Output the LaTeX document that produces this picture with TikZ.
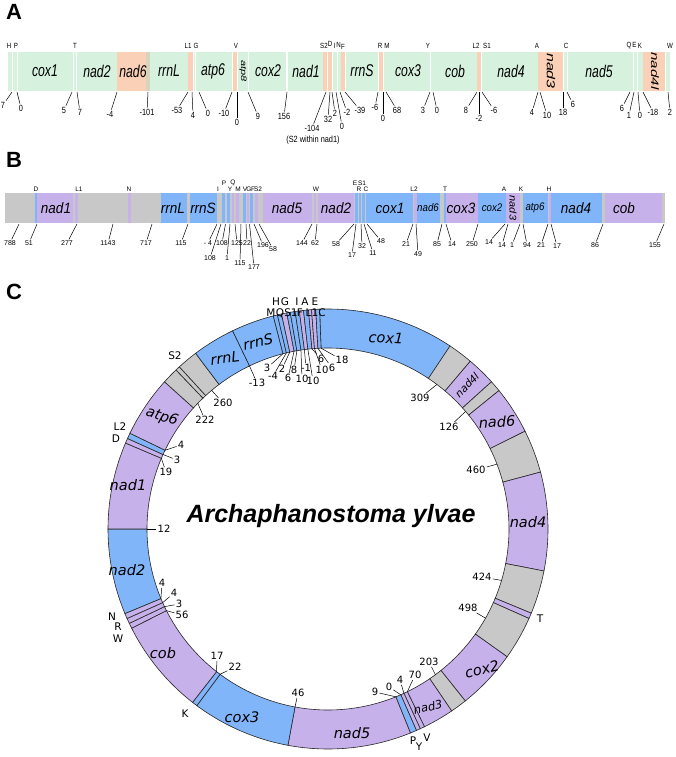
\documentclass[tikz,border=0pt]{standalone}
\usepackage{fontspec}
\usepackage{graphicx}
\setmainfont{Liberation Sans}
\newfontfamily\dejavu{DejaVu Sans}
\definecolor{agreen}{RGB}{214,241,222}
\definecolor{aorange}{RGB}{250,208,182}
\definecolor{amix}{RGB}{215,212,188}
\definecolor{bgrey}{RGB}{200,200,200}
\definecolor{bpurple}{RGB}{199,177,234}
\definecolor{bblue}{RGB}{128,181,250}
\newcommand{\sqA}[1]{\scalebox{0.72}[1]{#1}}
\newcommand{\sqN}[1]{\scalebox{0.82}[1]{#1}}
\newcommand{\sqV}[1]{\scalebox{1}[0.72]{#1}}
\newcommand{\ringseg}[3]{\filldraw[ring, fill=#3] (#1:220) arc[start angle=#1, end angle=#2, radius=220] -- (#2:181) arc[start angle=#2, end angle=#1, radius=181] -- cycle;}
\tikzset{
  panel/.style={font=\fontsize{22}{22}\selectfont\bfseries},
  genA/.style={font=\fontsize{17}{17}\selectfont\itshape, inner sep=0pt},
  trnaA/.style={font=\fontsize{7.5}{7.5}\selectfont, inner sep=0pt},
  numA/.style={font=\fontsize{9}{9}\selectfont, inner sep=1pt},
  genB/.style={font=\fontsize{15}{15}\selectfont\itshape, inner sep=0pt},
  genBs/.style={font=\fontsize{11}{11}\selectfont\itshape, inner sep=0pt},
  trnaB/.style={font=\fontsize{6.5}{6.5}\selectfont, inner sep=0pt},
  numB/.style={font=\fontsize{7}{7}\selectfont, inner sep=1pt},
  ring/.style={draw=black!85, line width=0.6pt},
  genC/.style={font=\dejavu\fontsize{14.5}{14.5}\selectfont\itshape, inner sep=0pt},
  genCs/.style={font=\dejavu\fontsize{11.5}{11.5}\selectfont\itshape, inner sep=0pt},
  trnaC/.style={font=\dejavu\fontsize{10.5}{10.5}\selectfont, inner sep=0pt},
  numC/.style={font=\dejavu\fontsize{10}{10}\selectfont, inner sep=1pt},
  title/.style={font=\fontsize{25}{25}\selectfont\bfseries\itshape},
  tick/.style={line width=0.5pt}
}
\begin{document}
\begin{tikzpicture}[x=1pt,y=1pt]
\useasboundingbox (0,0) rectangle (675,-757);
\node[panel] (lA) at (14,-12) {A};
\node[panel] (lB) at (14,-160) {B};
\node[panel] (lC) at (14,-292) {C};

\foreach \a/\b/\c in {8/12/agreen, 13/17/agreen, 18/72.5/agreen, 73.5/76/agreen, 77/116.5/agreen, 116.5/146/aorange, 146/149.5/amix, 149.5/188/agreen, 188/192.5/aorange, 193.5/195/agreen, 195.5/232/agreen, 232.5/237/aorange, 238/247.5/agreen, 248.5/286/agreen, 287.5/323/agreen, 323/327/aorange, 327.5/332/aorange, 333/337/agreen, 337.5/340.5/agreen, 341/345/aorange, 346/378/agreen, 378.5/383/aorange, 384/385.5/agreen, 386/430/agreen, 431/432.5/agreen, 433/476.5/agreen, 477/481/aorange, 482/483.5/agreen, 484/537.5/agreen, 538/563/aorange, 564/567/agreen, 568/629.5/agreen, 630/633/agreen, 634/637/agreen, 638/642.5/agreen, 643/665/aorange, 666/670/agreen}
  {\fill[\c] (\a,-52) rectangle (\b,-91);}
\foreach \x/\t in {45/cox1, 97/nad2, 133/nad6, 169/rrnL, 213/atp6, 268/cox2, 306/nad1, 362/rrnS, 408/cox3, 455/cob, 511/nad4, 599/nad5}
  {\node[genA] (gA\t) at (\x,-71) {\sqA{\t}};}
\node[genA, font=\fontsize{11}{11}\selectfont\itshape, rotate=-90] (gAatp8) at (243,-71) {\sqV{atp8}};
\node[genA, font=\fontsize{16}{16}\selectfont\itshape, rotate=-90] (gAnad3) at (551,-71) {\sqV{nad3}};
\node[genA, font=\fontsize{15}{15}\selectfont\itshape, rotate=-90] (gAnad4l) at (655,-71) {\sqV{nad4l}};
\foreach \x/\y/\t [count=\i] in {9/46/H, 16/46/P, 75/46/T, 188/46/L1, 196/46/G, 236/46/V, 324/46/S2, 330/44/D, 334.5/45.5/I, 338.5/45/N, 343/46.5/F, 380/46/R, 387/46/M, 428/46/Y, 476/46/L2, 487/46/S1, 537/46/A, 566/46/C, 629/46/Q, 634.5/45/E, 640/46/K, 670/46/W}
  {\node[trnaA] (tA\i) at (\x,-\y) {\sqN{\t}};}
\foreach \bx/\lx/\ly/\t [count=\i] in {12/3/105/7, 17/21/108/0, 72/64/110/5, 77/80/112/7, 117/110/114/-4, 148/147/112/-101, 188/177/110/-53, 192/193/115/4, 199/208/113/0, 232/224/113/-10, 237/237/122/0, 248/258/116/9, 287/284/116/156, 326/312/128/-104, 330/328/119/32, 332/335/113/2, 336/342/126/0, 340/347/112/-2, 345/360/110/-39, 378/375/107/-6, 383/383/118/0, 386/397/110/68, 430/423/110/3, 433/437/110/0, 477/466/110/8, 479/479/118/-2, 482/494/110/-6, 538/532/112/4, 540/547/115/10, 563/563/112/18, 567/573/104/6, 630/622/108/6, 634/629/115/1, 638/640/115/0, 643/653/112/-18, 668/670/112/2}
  {\coordinate (pA\i) at (\bx,-92);
   \node[numA] (nA\i) at (\lx,-\ly) {\sqN{\t}};
   \draw[tick] (pA\i) -- (nA\i);}
\node[numA] (nAs2) at (313,-140) {\sqN{(S2 within nad1)}};

\fill[bgrey] (5,-193) rectangle (665,-223);
\foreach \a/\b/\c in {34.5/37/bblue, 37/73/bpurple, 74.5/77.5/bpurple, 128/131/bpurple, 161/187/bblue, 190/217/bblue, 222/224.5/bblue, 227/229.5/bblue, 232/234/bpurple, 236/239/bpurple, 243/245.5/bblue, 246.5/248.5/bpurple, 250/252.5/bblue, 255/258/bpurple, 263/312/bpurple, 313.5/316/bpurple, 318/354/bpurple, 355/357.5/bblue, 358.5/361/bblue, 362/364.5/bblue, 365.5/367.5/bblue, 368/413/bblue, 414/416.5/bpurple, 417/440/bblue, 443.5/446/bblue, 446/477.5/bpurple, 478/506/bblue, 506/520/bpurple, 523/548/bblue, 549/551/bpurple, 551/602/bblue, 605/662/bpurple}
  {\fill[\c] (\a,-193) rectangle (\b,-223);}
\foreach \x/\t in {56/nad1, 173/rrnL, 203/rrnS, 287/nad5, 336/nad2, 390/cox1, 461/cox3, 576/nad4, 624/cob}
  {\node[genB] (gB\t) at (\x,-208) {\scalebox{0.9}[1]{\t}};}
\foreach \x/\t in {428/nad6, 492/cox2, 535/atp6}
  {\node[genBs] (gB\t) at (\x,-208) {\scalebox{0.88}[1]{\t}};}
\node[genBs, rotate=-90] (gBnad3) at (513,-208) {\scalebox{1}[0.88]{nad3}};
\foreach \x/\y/\t [count=\i] in {36/189/D, 79/189/L1, 129/189/N, 218/189/I, 224/183/P, 230/189/Y, 233/183/Q, 238/189/M, 245/189/V, 249/189/G, 253/189/F, 258/189/S2, 316/189/W, 355/183/E, 362/183/S1, 359/189/R, 366/189/C, 414/189/L2, 445/189/T, 504/189/A, 521/189/K, 549/189/H}
  {\node[trnaB] (tB\i) at (\x,-\y) {\t};}
\foreach \bx/\lx/\ly/\t [count=\i] in {19/10/243/788, 37/29/243/51, 77/67/243/277, 113/108/243/1143, 152/146/243/717, 188/181/243/115, 217/208/243/- 4, 221/210/258/108, 225.5/222/243/108, 230/227/258/1, 235/237/243/125, 241/240/263/115, 246/247/243/22, 249.5/254/267/177, 254/263/245/196, 259/273/249/58, 312/302/243/144, 317/315/243/62, 354/336/244/58, 356/352/255/17, 361/362/246/32, 364/373/253/11, 367/381/241/48, 413/406/244/21, 416/418/254/49, 442/437/244/85, 446/452/244/14, 478/472/244/250, 505/489/242/14, 508/502/245/14, 520/512/245/1, 523/527/245/94, 548/541/245/21, 551/557/246/17, 603/595/245/86, 664/655/245/155}
  {\coordinate (pB\i) at (\bx,-224);
   \node[numB] (nB\i) at (\lx,-\ly) {\t};
   \draw[tick] (pB\i) -- (nB\i);}

\coordinate (C) at (328,-529);
\begin{scope}[shift={(C)}]
\foreach \a/\b/\c in {56.3/92.2/bblue, 49.7/56.3/bgrey, 42/49.7/bpurple, 39/42/bgrey, 26.4/39/bpurple, 15/26.4/bgrey, -11/15/bpurple, -22.5/-11/bgrey, -24/-22.5/bpurple, -35.5/-24/bgrey, -51.4/-35.5/bpurple, -55.8/-51.4/bgrey, -64/-55.8/bpurple, -65.2/-64/bpurple, -66.3/-65.2/bpurple, -68/-66.3/bblue, -100.5/-68/bpurple, -126.6/-100.5/bblue, -128/-126.6/bblue, -153.2/-128/bpurple, -154.6/-153.2/bpurple, -156/-154.6/bpurple, -157.4/-156/bpurple, -180/-157.4/bblue, 157/180/bpurple, 155.7/157/bpurple, 154.2/155.7/bblue, 138/154.2/bpurple, 133.7/138/bgrey, 132.5/133.7/bgrey, 127/132.5/bgrey, 115.7/127/bblue, 104.4/115.7/bblue, 103.3/104.4/bblue, 102.2/103.3/bblue, 100.8/102.2/bpurple, 99.9/100.8/bblue, 98.6/99.9/bblue, 97.5/98.6/bblue, 96.4/97.5/bpurple, 95.1/96.4/bblue, 94.3/95.1/bpurple, 93.2/94.3/bpurple, 92.2/93.2/bblue}
  {\ringseg{\a}{\b}{\c}}
\end{scope}
\node[title] (tC) at (331,-516) {Archaphanostoma ylvae};
\foreach \x/\y/\r/\t in {386/338/-3/cox1, 258/342/12/rrnS, 225/358/7/rrnL, 497/422/3/nad6, 528/522/0/nad4, 482/669/14/cox2, 352/733/0/nad5, 242/717/0/cox3, 163/653/0/cob, 127/570/0/nad2, 128/485/0/nad1, 162/417/-18/atp6}
  {\node[genC, rotate=\r] (gC\t) at (\x,-\y) {\t};}
\node[genCs, font=\dejavu\fontsize{10.5}{10.5}\selectfont\itshape, rotate=46] (gCnad4l) at (467,-385) {nad4l};
\node[genCs, rotate=12] (gCnad3) at (428,-707) {nad3};
\foreach \x/\y/\t [count=\i] in {271/313/M, 276/302/H, 280/313/Q, 285/302/G, 291/313/S1, 297/302/I, 300/313/F, 305/302/A, 312/313/L1, 315/302/E, 322/313/C, 175/356/S2, 120/427/L2, 116/439/D, 112/617/N, 118/627/R, 118/639/W, 185/714/K, 413/741/P, 419/747/Y, 427/738/V, 540/619/T}
  {\node[trnaC] (tC\i) at (\x,-\y) {\t};}
\foreach \a/\lx/\ly/\t [count=\i] in {104.4/267/368/3, 103.3/273/376/-4, 102.2/282/369/2, 100.8/288/378/6, 99.9/294/370/8, 98.6/302/379/10, 97.5/306/368/-1, 96.4/313/381/10, 95.1/321/359/6, 94.3/322/370/10, 93.2/332/368/6, 92.2/342/360/18, 115.7/257/383/-13, 130/223/403/260, 136/205/420/222, 154.2/181/445/4, 155.7/177/460/3, 157/166/472/19, 180/164/529/12, -157.4/162/583/4, -156/174/593/4, -154.6/179/604/3, -153.2/182/615/56, -128/217/656/17, -126.6/235/667/22, -100.5/298/693/46, -68/375/692/9, -66.3/389/687/0, -65.2/400/680/4, -64/415/675/70, -53.6/429/662/203, 53/420/398/309, 40.5/449/427/126, 21/476/470/460, -16.5/482/577/424, -29.5/468/608/498}
  {\coordinate (pC\i) at ([shift={(\a:181)}]C);
   \node[numC] (nC\i) at (\lx,-\ly) {\t};
   \draw[tick] (pC\i) -- (nC\i);}
\end{tikzpicture}
\end{document}
